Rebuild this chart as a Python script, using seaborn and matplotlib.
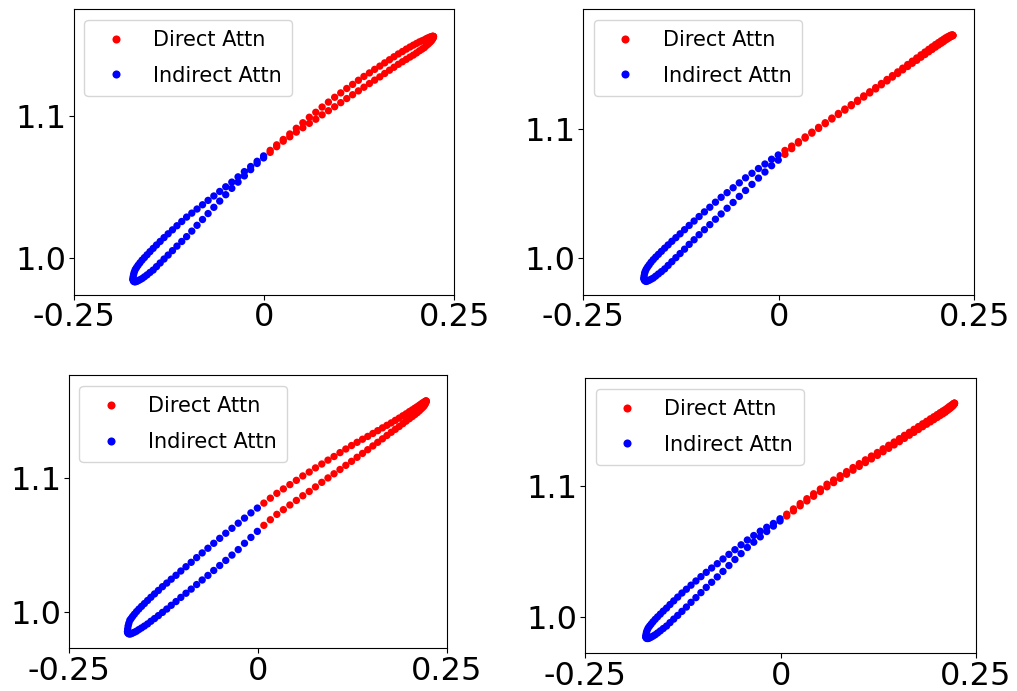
#import necessary packages
import numpy as np
import pandas as pd
import matplotlib
matplotlib.use('Agg')
from matplotlib import pyplot as plt
import seaborn as sns

#x positions of the samples (same input for all four panels)
x_vals = [-0.1725, -0.1723, -0.1717, -0.1708, -0.1695, -0.1678, -0.1658, -0.1634, -0.1606, -0.1575,
          -0.1540, -0.1502, -0.1460, -0.1416, -0.1368, -0.1317, -0.1263, -0.1206, -0.1147, -0.1084,
          -0.1020, -0.0952, -0.0883, -0.0811, -0.0738, -0.0662, -0.0585, -0.0506, -0.0426, -0.0344,
          -0.0261, -0.0178, -0.0093, -0.0008, 0.0078, 0.0164, 0.0250, 0.0336, 0.0422, 0.0508,
          0.0593, 0.0678, 0.0761, 0.0844, 0.0926, 0.1006, 0.1085, 0.1162, 0.1238, 0.1311,
          0.1383, 0.1452, 0.1520, 0.1584, 0.1647, 0.1706, 0.1763, 0.1817, 0.1868, 0.1916,
          0.1960, 0.2002, 0.2040, 0.2075, 0.2106, 0.2134, 0.2158, 0.2178, 0.2195, 0.2208,
          0.2217, 0.2223, 0.2225]

#top left panel
p1_upper = [0.9850, 0.9867, 0.9883, 0.9900, 0.9918, 0.9932, 0.9948, 0.9965, 0.9984, 1.0002,
            1.0022, 1.0044, 1.0067, 1.0091, 1.0116, 1.0143, 1.0170, 1.0198, 1.0227, 1.0257,
            1.0288, 1.0316, 1.0345, 1.0375, 1.0406, 1.0437, 1.0469, 1.0502, 1.0535, 1.0572,
            1.0609, 1.0645, 1.0682, 1.0720, 1.0759, 1.0798, 1.0836, 1.0875, 1.0915, 1.0954,
            1.0993, 1.1028, 1.1065, 1.1100, 1.1134, 1.1165, 1.1196, 1.1225, 1.1254, 1.1281,
            1.1306, 1.1331, 1.1354, 1.1377, 1.1399, 1.1420, 1.1440, 1.1457, 1.1474, 1.1489,
            1.1502, 1.1514, 1.1525, 1.1533, 1.1540, 1.1549, 1.1554, 1.1559, 1.1561, 1.1564,
            1.1565, 1.1564, 1.1562]
p1_lower = [0.9850, 0.9842, 0.9835, 0.9832, 0.9831, 0.9834, 0.9839, 0.9846, 0.9854, 0.9866,
            0.9880, 0.9897, 0.9914, 0.9938, 0.9964, 0.9992, 1.0020, 1.0051, 1.0083, 1.0116,
            1.0150, 1.0189, 1.0230, 1.0271, 1.0313, 1.0357, 1.0401, 1.0446, 1.0491, 1.0535,
            1.0579, 1.0623, 1.0667, 1.0706, 1.0745, 1.0785, 1.0824, 1.0855, 1.0888, 1.0919,
            1.0950, 1.0979, 1.1010, 1.1039, 1.1067, 1.1096, 1.1125, 1.1152, 1.1179, 1.1205,
            1.1231, 1.1255, 1.1278, 1.1302, 1.1325, 1.1346, 1.1367, 1.1385, 1.1402, 1.1418,
            1.1432, 1.1447, 1.1462, 1.1474, 1.1485, 1.1500, 1.1511, 1.1522, 1.1531, 1.1541,
            1.1550, 1.1556, 1.1562]

#top right panel
p2_upper = [0.9843, 0.9862, 0.9882, 0.9898, 0.9915, 0.9931, 0.9948, 0.9968, 0.9988, 1.0008,
            1.0029, 1.0052, 1.0077, 1.0102, 1.0130, 1.0158, 1.0188, 1.0220, 1.0253, 1.0287,
            1.0322, 1.0358, 1.0394, 1.0433, 1.0471, 1.0507, 1.0545, 1.0583, 1.0622, 1.0657,
            1.0694, 1.0729, 1.0766, 1.0799, 1.0834, 1.0868, 1.0902, 1.0939, 1.0976, 1.1013,
            1.1049, 1.1085, 1.1121, 1.1155, 1.1189, 1.1223, 1.1257, 1.1289, 1.1321, 1.1353,
            1.1384, 1.1414, 1.1443, 1.1472, 1.1500, 1.1526, 1.1551, 1.1575, 1.1597, 1.1618,
            1.1637, 1.1655, 1.1670, 1.1684, 1.1696, 1.1707, 1.1715, 1.1721, 1.1726, 1.1728,
            1.1729, 1.1728, 1.1725]
p2_lower = [0.9843, 0.9834, 0.9827, 0.9822, 0.9819, 0.9823, 0.9828, 0.9836, 0.9845, 0.9860,
            0.9877, 0.9895, 0.9916, 0.9943, 0.9972, 1.0003, 1.0035, 1.0069, 1.0106, 1.0142,
            1.0181, 1.0220, 1.0259, 1.0301, 1.0342, 1.0386, 1.0431, 1.0478, 1.0524, 1.0571,
            1.0620, 1.0667, 1.0716, 1.0759, 1.0804, 1.0848, 1.0892, 1.0930, 1.0968, 1.1005,
            1.1042, 1.1078, 1.1113, 1.1147, 1.1181, 1.1214, 1.1248, 1.1280, 1.1311, 1.1343,
            1.1373, 1.1403, 1.1431, 1.1459, 1.1485, 1.1510, 1.1533, 1.1557, 1.1578, 1.1599,
            1.1617, 1.1635, 1.1651, 1.1665, 1.1678, 1.1691, 1.1700, 1.1709, 1.1715, 1.1720,
            1.1723, 1.1725, 1.1725]

#bottom left panel
p3_upper = [0.9855, 0.9876, 0.9898, 0.9918, 0.9940, 0.9953, 0.9969, 0.9986, 1.0005, 1.0024,
            1.0044, 1.0065, 1.0088, 1.0112, 1.0137, 1.0163, 1.0191, 1.0218, 1.0247, 1.0276,
            1.0308, 1.0340, 1.0373, 1.0408, 1.0443, 1.0478, 1.0515, 1.0552, 1.0590, 1.0627,
            1.0665, 1.0703, 1.0742, 1.0778, 1.0815, 1.0852, 1.0888, 1.0921, 1.0953, 1.0985,
            1.1018, 1.1047, 1.1078, 1.1107, 1.1136, 1.1163, 1.1192, 1.1219, 1.1245, 1.1269,
            1.1292, 1.1313, 1.1335, 1.1356, 1.1377, 1.1396, 1.1414, 1.1433, 1.1450, 1.1467,
            1.1482, 1.1498, 1.1511, 1.1524, 1.1535, 1.1546, 1.1555, 1.1563, 1.1568, 1.1573,
            1.1576, 1.1577, 1.1577]
p3_lower = [0.9855, 0.9848, 0.9843, 0.9839, 0.9838, 0.9840, 0.9845, 0.9851, 0.9859, 0.9871,
            0.9883, 0.9897, 0.9913, 0.9933, 0.9953, 0.9975, 0.9999, 1.0024, 1.0052, 1.0080,
            1.0111, 1.0142, 1.0173, 1.0207, 1.0241, 1.0275, 1.0312, 1.0349, 1.0387, 1.0427,
            1.0468, 1.0515, 1.0559, 1.0604, 1.0649, 1.0691, 1.0731, 1.0766, 1.0801, 1.0835,
            1.0870, 1.0902, 1.0936, 1.0970, 1.1003, 1.1034, 1.1066, 1.1097, 1.1127, 1.1157,
            1.1186, 1.1214, 1.1242, 1.1269, 1.1295, 1.1320, 1.1344, 1.1366, 1.1387, 1.1408,
            1.1427, 1.1445, 1.1461, 1.1476, 1.1490, 1.1504, 1.1518, 1.1529, 1.1539, 1.1551,
            1.1561, 1.1570, 1.1577]

#bottom right panel
p4_upper = [0.9847, 0.9863, 0.9880, 0.9896, 0.9913, 0.9927, 0.9942, 0.9960, 0.9979, 0.9998,
            1.0019, 1.0042, 1.0065, 1.0092, 1.0120, 1.0149, 1.0180, 1.0209, 1.0240, 1.0272,
            1.0305, 1.0338, 1.0371, 1.0404, 1.0440, 1.0475, 1.0511, 1.0548, 1.0585, 1.0619,
            1.0652, 1.0682, 1.0711, 1.0747, 1.0782, 1.0822, 1.0863, 1.0900, 1.0938, 1.0974,
            1.1011, 1.1043, 1.1076, 1.1107, 1.1138, 1.1168, 1.1197, 1.1226, 1.1253, 1.1281,
            1.1308, 1.1333, 1.1359, 1.1384, 1.1407, 1.1430, 1.1451, 1.1472, 1.1491, 1.1510,
            1.1526, 1.1542, 1.1557, 1.1570, 1.1581, 1.1593, 1.1604, 1.1612, 1.1619, 1.1623,
            1.1628, 1.1629, 1.1629]
p4_lower = [0.9847, 0.9840, 0.9835, 0.9833, 0.9833, 0.9837, 0.9843, 0.9851, 0.9861, 0.9875,
            0.9891, 0.9909, 0.9928, 0.9954, 0.9981, 1.0009, 1.0040, 1.0073, 1.0109, 1.0145,
            1.0183, 1.0223, 1.0262, 1.0303, 1.0345, 1.0390, 1.0436, 1.0481, 1.0528, 1.0568,
            1.0609, 1.0650, 1.0691, 1.0730, 1.0768, 1.0807, 1.0846, 1.0883, 1.0919, 1.0955,
            1.0991, 1.1023, 1.1056, 1.1087, 1.1118, 1.1147, 1.1176, 1.1204, 1.1231, 1.1259,
            1.1285, 1.1311, 1.1336, 1.1361, 1.1385, 1.1407, 1.1429, 1.1450, 1.1469, 1.1487,
            1.1504, 1.1520, 1.1535, 1.1548, 1.1560, 1.1574, 1.1585, 1.1595, 1.1604, 1.1612,
            1.1620, 1.1625, 1.1629]

#legend names and ticks
kinds = ['Direct Attn', 'Indirect Attn']
kind_colors = {'Direct Attn': 'red', 'Indirect Attn': 'blue'}
xtick_vals = [-0.25, 0, 0.25]
xtick_labels = ['-0.25', '0', '0.25']
ytick_vals = [1.0, 1.1]
ytick_labels = ['1.0', '1.1']

#each panel: its two branches, where the axes sit in the figure, y range
panels = [
    (p1_upper, p1_lower, [0.0728, 0.5735, 0.3740, 0.4130], (0.9740, 1.1755)),
    (p2_upper, p2_lower, [0.5736, 0.5735, 0.3845, 0.4130], (0.9716, 1.1928)),
    (p3_upper, p3_lower, [0.0678, 0.0618, 0.3717, 0.3950], (0.9731, 1.1769)),
    (p4_upper, p4_lower, [0.5755, 0.0546, 0.3842, 0.3980], (0.9720, 1.1820)),
]

fig = plt.figure(figsize=(10.17, 6.91), dpi=100)

for upper, lower, pos, ylim in panels:
    ax = fig.add_axes(pos)
    df = pd.DataFrame({'x': x_vals + x_vals, 'y': upper + lower})
    #positive x is direct attention, negative is indirect
    df['kind'] = np.where(df.x >= 0, kinds[0], kinds[1])
    sns.scatterplot(data=df, x='x', y='y', hue='kind', hue_order=kinds,
                    palette=kind_colors, s=28, linewidth=0, ax=ax)
    ax.set_xlim(-0.25, 0.25)
    ax.set_ylim(*ylim)
    ax.set_xticks(xtick_vals)
    ax.set_xticklabels(xtick_labels)
    ax.set_yticks(ytick_vals)
    ax.set_yticklabels(ytick_labels)
    ax.tick_params(labelsize=23, pad=2)
    ax.set_xlabel('')
    ax.set_ylabel('')
    handles, labels = ax.get_legend_handles_labels()
    ax.legend(handles, labels, loc='upper left', fontsize=15, markerscale=1.1,
              labelspacing=0.75, borderpad=0.5)

fig.savefig('out.png', dpi=100)
